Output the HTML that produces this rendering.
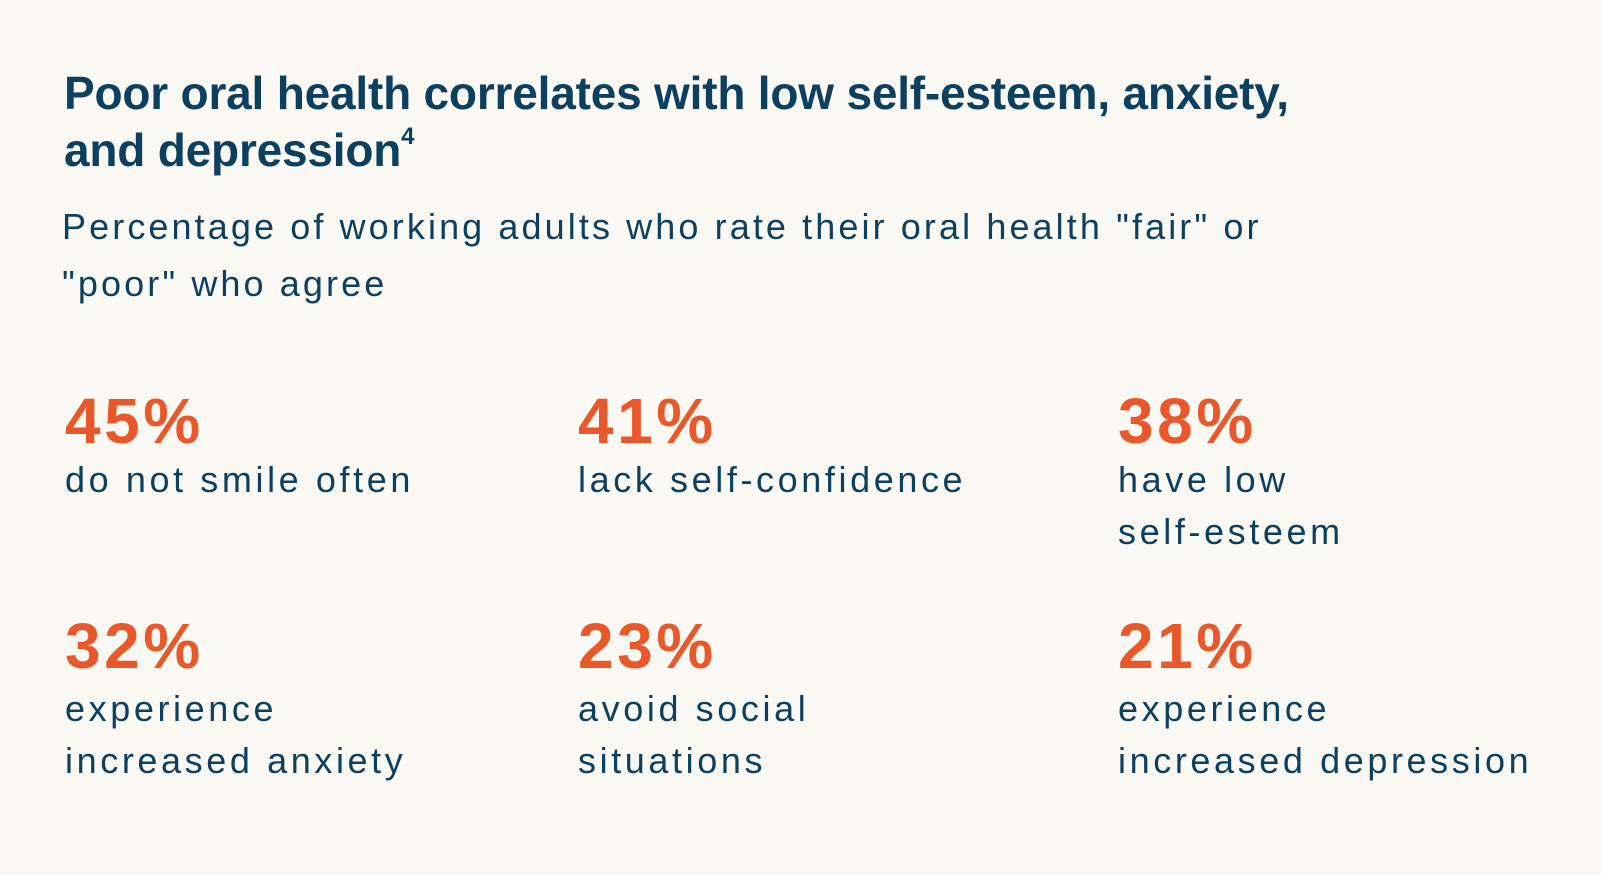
<!DOCTYPE html>
<html><head><meta charset="utf-8"><style>
html,body{margin:0;padding:0}
body{width:1601px;height:875px;background:#f9f8f2;position:relative;overflow:hidden;font-family:"Liberation Sans",sans-serif;color:#0d3f5e}
.a{position:absolute;white-space:nowrap;line-height:1}
.t{font-weight:bold;font-size:46px;letter-spacing:-0.2px}
.s{font-size:36px;letter-spacing:3.1px}
.n{font-weight:bold;font-size:64px;letter-spacing:3.5px;color:#e9582b}
.l{font-size:36px;line-height:52px;letter-spacing:3.6px}
</style></head><body>
<div class="a t" style="left:64px;top:70px">Poor oral health correlates with low self-esteem, anxiety,</div>
<div class="a t" style="left:64px;top:127px">and depression<sup style="font-size:24px;vertical-align:top;position:relative;top:-2px">4</sup></div>
<div class="a s" style="left:62px;top:209px">Percentage of working adults who rate their oral health "fair" or</div>
<div class="a s" style="left:62px;top:266px">"poor" who agree</div>
<div id="stats"></div>
<script>
const values=[45,41,38,32,23,21];
const labels=["do not smile often","lack self-confidence","have low<br>self-esteem","experience<br>increased anxiety","avoid social<br>situations","experience<br>increased depression"];
const cols=[65,578,1118];
const numTops=[389,614];
const labelTops=[454,683];
const root=document.getElementById('stats');
values.forEach((v,i)=>{
  const x=cols[i%3], r=Math.floor(i/3);
  const n=document.createElement('div');
  n.className='a n';n.style.left=x+'px';n.style.top=numTops[r]+'px';n.textContent=v+'%';
  
  
  root.appendChild(n);
  const l=document.createElement('div');
  l.className='a l';l.style.left=x+'px';l.style.top=labelTops[r]+'px';l.innerHTML=labels[i];
  
  
  root.appendChild(l);
});
</script>
</body></html>
